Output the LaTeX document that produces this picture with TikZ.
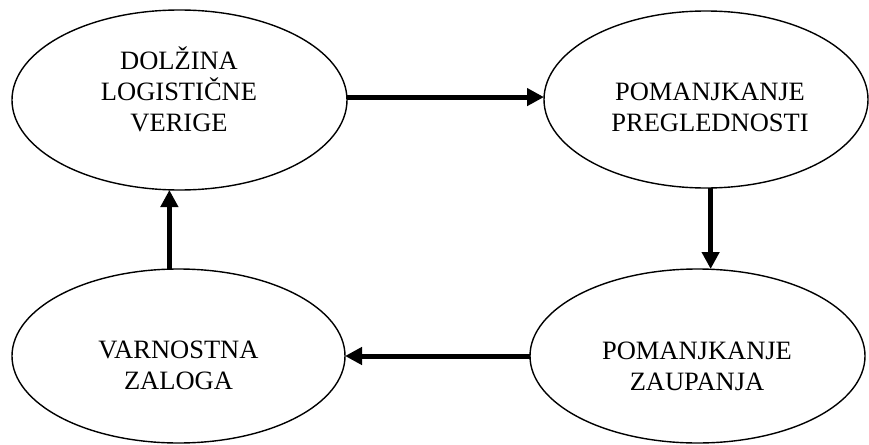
\documentclass[tikz,border=0pt]{standalone}
\usepackage{fontspec}
\setmainfont{Liberation Serif}
\usetikzlibrary{shapes.geometric,arrows.meta}
\begin{document}
\begin{tikzpicture}[x=1pt,y=-1pt,
  bubble/.style={draw,ellipse,line width=1.4pt,inner sep=0pt,outer sep=0pt},
  caption/.style={align=center,anchor=base,inner sep=0pt,
    font=\fontsize{26.5}{31}\selectfont},
  flow/.style={line width=5pt,-{Triangle[length=17pt,width=17pt]}}]
\useasboundingbox (0,0) rectangle (869,444);

% the four states of the cycle
\node[bubble,minimum width=335pt,minimum height=180pt] (e1) at (179.5,100) {};
\node[bubble,minimum width=324pt,minimum height=177pt] (e2) at (706,99.5) {};
\node[bubble,minimum width=335pt,minimum height=174pt] (e3) at (697.5,356) {};
\node[bubble,minimum width=333pt,minimum height=174pt] (e4) at (178.5,356) {};

% their captions (anchored at the baseline of the last line)
\node[caption] (t1) at (179,131) {DOLŽINA\\LOGISTIČNE\\VERIGE};
\node[caption] (t2) at (710,131) {POMANJKANJE\\PREGLEDNOSTI};
\node[caption] (t3) at (697,390) {POMANJKANJE\\ZAUPANJA};
\node[caption] (t4) at (178.5,389) {VARNOSTNA\\ZALOGA};

% arrows closing the loop
\draw[flow] (e1.1.2) -- (e1.1.2 -| e2.west);
\draw[flow] (e2.-87.4) -- (e2.-87.4 |- e3.north);
\draw[flow] (e3.west) -- (e3.west -| e4.east);
\draw[flow] (e4.96.6) -- (e4.96.6 |- e1.south);
\end{tikzpicture}
\end{document}
